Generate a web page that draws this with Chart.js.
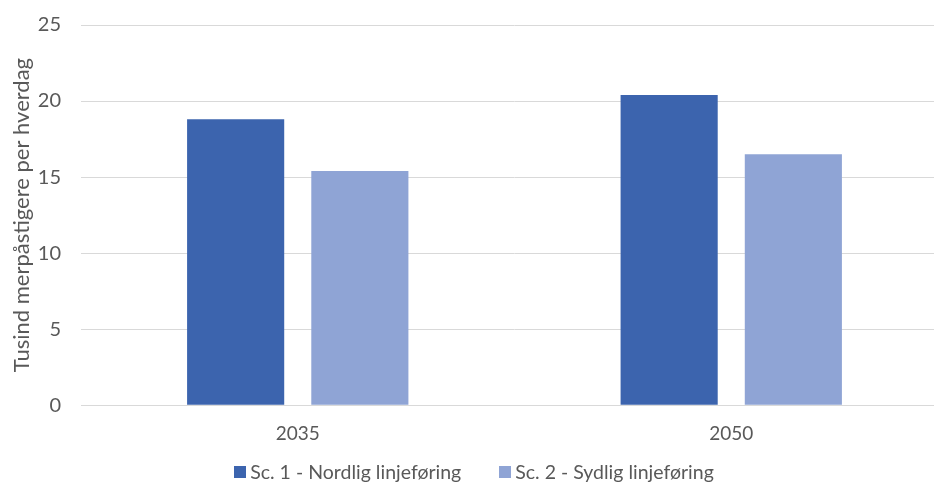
<!DOCTYPE html>
<html>
<head>
<meta charset="utf-8">
<script src="https://cdn.jsdelivr.net/npm/chart.js@4"></script>
<style>
  html, body { margin: 0; padding: 0; background: #fff; overflow: hidden; }
  #wrap { position: relative; width: 948px; height: 482px; }
  #legend {
    position: absolute; left: 0; right: 0; top: 460px;
    display: flex; justify-content: center; gap: 38px;
    font: 19.5px Lato, sans-serif; color: #595959; line-height: 24px;
  }
  #legend span.item { display: flex; align-items: center; white-space: nowrap; }
  #legend i { display: inline-block; width: 12px; height: 12px; margin-right: 4px; }
</style>
</head>
<body>
<div id="wrap">
  <canvas id="chart"></canvas>
  <div id="legend"></div>
</div>
<script>
const years = ['2035', '2050'];
const nordlig = [18.8, 20.4];
const sydlig = [15.4, 16.5];
const yTicks = [0, 5, 10, 15, 20, 25];

const grey = '#595959';
const fontFam = "Lato, 'Noto Sans', sans-serif";

const chart = new Chart(document.getElementById('chart'), {
    type: 'bar',
    data: {
        labels: years,
        datasets: [
            { label: 'Sc. 1 - Nordlig linjeføring', data: nordlig, backgroundColor: '#3c64ae', categoryPercentage: 0.573, barPercentage: 0.782 },
            { label: 'Sc. 2 - Sydlig linjeføring', data: sydlig, backgroundColor: '#8fa4d5', categoryPercentage: 0.573, barPercentage: 0.782 }
        ]
    },
    options: {
        responsive: true,
        maintainAspectRatio: false,
        animation: false,
        layout: { padding: { top: 25, left: 0, right: 0, bottom: 20 } },
        plugins: {
            tooltip: { enabled: false },
            legend: { display: false }
        },
        scales: {
            x: {
                grid: { display: false, drawTicks: false },
                border: { color: '#d9d9d9' },
                ticks: { color: grey, font: { family: fontFam, size: 19 }, padding: 17 }
            },
            y: {
                min: 0, max: 25,
                afterBuildTicks: axis => { axis.ticks = yTicks.map(v => ({ value: v })); },
                afterFit: axis => {
                    axis.width = 81;
                    axis.paddingTop = 0;
                    axis.paddingBottom = 0;
                },
                grid: { color: '#d9d9d9', drawTicks: false },
                border: { display: false },
                ticks: { color: grey, font: { family: fontFam, size: 20 }, padding: 20 },
                title: {
                    display: true,
                    text: 'Tusind merpåstigere per hverdag',
                    color: grey,
                    font: { family: fontFam, size: 22 },
                    padding: { top: 9, bottom: 0 }
                }
            }
        }
    }
});

// legend as html under the plot
const legendEl = document.getElementById('legend');
chart.data.datasets.forEach(ds => {
    const item = document.createElement('span');
    item.className = 'item';
    item.innerHTML = `<i style="background:${ds.backgroundColor}"></i>${ds.label}`;
    legendEl.appendChild(item);
});
</script>
</body>
</html>
